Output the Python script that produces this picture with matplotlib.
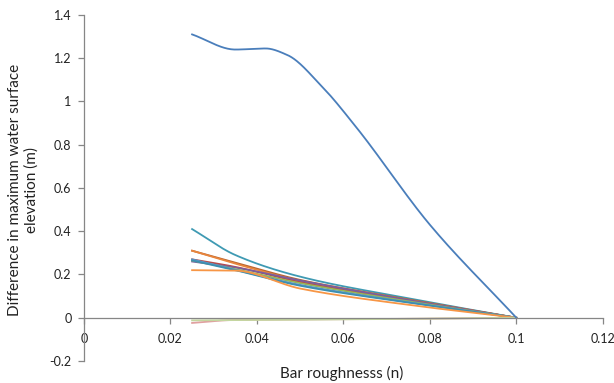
import numpy as np
import matplotlib
matplotlib.use("Agg")
import matplotlib.pyplot as plt

plt.rcParams['font.family'] = ['Lato', 'DejaVu Sans']

# ---- data ----
x_main = [0.025, 0.035, 0.042, 0.047, 0.055, 0.063, 0.08, 0.1]
y_main = [1.31, 1.24, 1.245, 1.215, 1.07, 0.88, 0.43, 0.0]

x_lo = [0.025, 0.035, 0.05, 0.075, 0.1]
series_lo = {
    "s_teal":    [0.41, 0.29, 0.19, 0.09, 0.0],
    "s_brown":   [0.31, 0.255, 0.175, 0.085, 0.0],
    "s_orange2": [0.31, 0.25, 0.17, 0.082, 0.0],
    "s_red":     [0.27, 0.235, 0.165, 0.08, 0.0],
    "s_purple":  [0.26, 0.232, 0.172, 0.082, 0.0],
    "s_green":   [0.265, 0.225, 0.16, 0.076, 0.0],
    "s_blue2":   [0.27, 0.222, 0.152, 0.072, 0.0],
    "s_dteal":   [0.265, 0.22, 0.148, 0.07, 0.0],
    "s_orange":  [0.22, 0.218, 0.135, 0.06, 0.0],
    "s_pink":    [-0.024, -0.01, -0.008, -0.005, 0.0],
    "s_lgreen":  [-0.012, -0.011, -0.009, -0.005, 0.0],
}
colors_lo = {
    "s_teal": "#3F9AB3",
    "s_brown": "#B9652F",
    "s_orange2": "#E8853D",
    "s_red": "#B94A47",
    "s_purple": "#7A5E9E",
    "s_green": "#97B757",
    "s_blue2": "#5B95C8",
    "s_dteal": "#3C8FB0",
    "s_orange": "#F79646",
    "s_pink": "#E0A0A0",
    "s_lgreen": "#C4D6A0",
}
main_color = "#4A7EBB"

xticks = [0, 0.02, 0.04, 0.06, 0.08, 0.1, 0.12]
xtick_labels = ["0", "0.02", "0.04", "0.06", "0.08", "0.1", "0.12"]
yticks = [-0.2, 0, 0.2, 0.4, 0.6, 0.8, 1.0, 1.2, 1.4]
ytick_labels = ["-0.2", "0", "0.2", "0.4", "0.6", "0.8", "1", "1.2", "1.4"]


def smooth(x, y, n=40):
    """Monotone (PCHIP) cubic smoothing of a polyline, no overshoot."""
    x = np.asarray(x, float)
    y = np.asarray(y, float)
    h = np.diff(x)
    d = np.diff(y) / h
    m = np.zeros_like(y)
    for k in range(1, len(x) - 1):
        if d[k - 1] * d[k] > 0:
            w1 = 2 * h[k] + h[k - 1]
            w2 = h[k] + 2 * h[k - 1]
            m[k] = (w1 + w2) / (w1 / d[k - 1] + w2 / d[k])
    m[0] = d[0]
    m[-1] = d[-1]
    xs, ys = [], []
    for k in range(len(x) - 1):
        t = np.linspace(0, 1, n)
        h00 = 2 * t**3 - 3 * t**2 + 1
        h10 = t**3 - 2 * t**2 + t
        h01 = -2 * t**3 + 3 * t**2
        h11 = t**3 - t**2
        xs.append(x[k] + t * h[k])
        ys.append(h00 * y[k] + h10 * h[k] * m[k] + h01 * y[k + 1] + h11 * h[k] * m[k + 1])
    return np.concatenate(xs), np.concatenate(ys)


fig = plt.figure(figsize=(6.14, 3.83), dpi=100)
ax = fig.add_axes([0.1368, 0.0574, 0.845, 0.9036])

for key, vals in series_lo.items():
    sx, sy = smooth(x_lo, vals)
    ax.plot(sx, sy, color=colors_lo[key], lw=1.3)

sx, sy = smooth(x_main, y_main)
ax.plot(sx, sy, color=main_color, lw=1.3)

ax.set_xlim(0, 0.12)
ax.set_ylim(-0.2, 1.4)

ax.spines['top'].set_visible(False)
ax.spines['right'].set_visible(False)
ax.spines['bottom'].set_position(('data', 0))
for s in ('left', 'bottom'):
    ax.spines[s].set_color('#868686')
    ax.spines[s].set_linewidth(0.9)

ax.set_xticks(xticks)
ax.set_xticklabels(xtick_labels)
ax.set_yticks(yticks)
ax.set_yticklabels(ytick_labels)
ax.tick_params(axis='both', colors='#868686', labelcolor='#222222', labelsize=9,
               length=4, width=0.9)
ax.tick_params(axis='x', direction='out', pad=7)
ax.tick_params(axis='y', direction='out', pad=5)

fig.text(0.557, 0.026, "Bar roughnesss (n)", ha='center', va='center', fontsize=11, color='#222222')
fig.text(0.038, 0.504, "Difference in maximum water surface\nelevation (m)", ha='center', va='center',
         rotation=90, fontsize=11, color='#222222', linespacing=1.25)

fig.savefig("out.png", dpi=100)
